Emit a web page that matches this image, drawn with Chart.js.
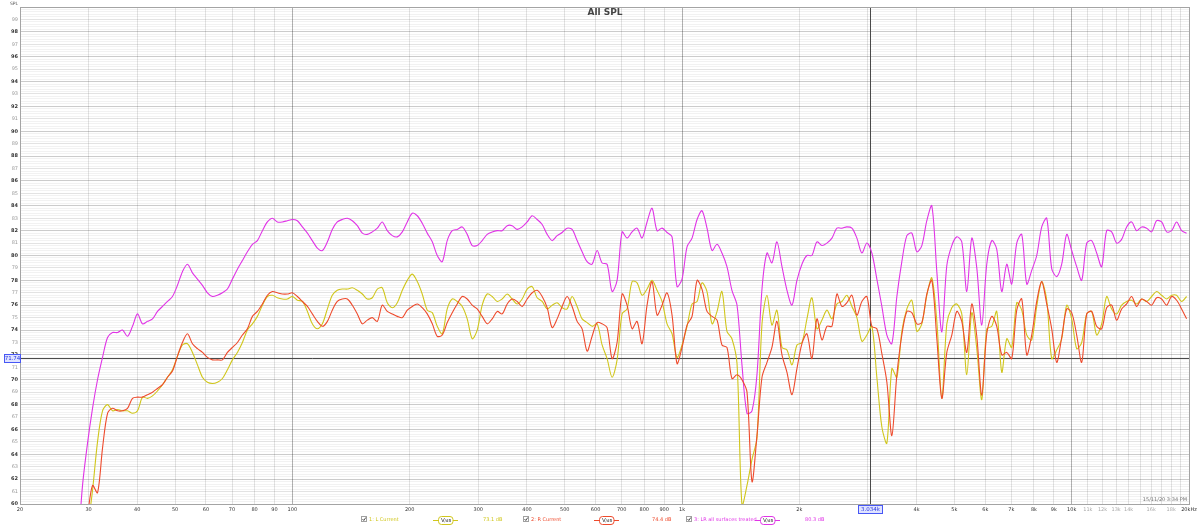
<!DOCTYPE html>
<html>
<head>
<meta charset="utf-8">
<title>All SPL</title>
<script src="https://cdn.jsdelivr.net/npm/chart.js@4.4.1/dist/chart.umd.min.js"></script>
<style>
  html, body { margin: 0; padding: 0; background: #fff; }
  #wrap { position: relative; width: 1200px; height: 526px; }
</style>
</head>
<body>
<div id="wrap"><canvas id="spl"></canvas></div>
<script>
// frequency points (Hz), roughly 1/78 decade apart
const freqHz = [
  28.10, 28.94, 29.81, 30.70, 31.62, 32.57, 33.55, 34.55, 35.59, 36.65,
  37.75, 38.88, 40.05, 41.25, 42.48, 43.76, 45.07, 46.42, 47.81, 49.24,
  50.71, 52.23, 53.80, 55.41, 57.07, 58.78, 60.54, 62.36, 64.22, 66.15,
  68.13, 70.17, 72.27, 74.44, 76.67, 78.96, 81.33, 83.77, 86.28, 88.86,
  91.52, 94.27, 97.09,
  100, 103.0, 106.1, 109.3, 112.5, 115.9, 119.4, 123.0, 126.6, 130.4,
  134.3, 138.4, 142.5, 146.8, 151.2, 155.7, 160.4, 165.2, 170.1, 175.2,
  180.5, 185.9, 191.5, 197.2, 203.1, 209.2, 215.4, 221.9, 228.6, 235.4,
  242.5, 249.7, 257.2, 264.9, 272.9, 281.0, 289.4, 298.1, 307.0, 316.2,
  325.7, 335.5, 345.5, 355.9, 366.5, 377.5, 388.8, 400.5, 412.5, 424.8,
  437.6, 450.7, 464.2, 478.1, 492.4, 507.1, 522.3, 538.0, 554.1, 570.7,
  587.8, 605.4, 623.6, 642.2, 661.5, 681.3, 701.7, 722.7, 744.4, 766.7,
  789.6, 813.3, 837.7, 862.8, 888.6, 915.2, 942.7, 970.9,
  1000, 1030, 1061, 1093, 1125, 1159, 1194, 1230, 1266, 1304,
  1343, 1384, 1425, 1468, 1512, 1557, 1604, 1652, 1701, 1752,
  1805, 1859, 1915, 1972, 2031, 2092, 2154, 2219, 2286, 2354,
  2425, 2497, 2572, 2649, 2729, 2810, 2894, 2981, 3070, 3162,
  3257, 3355, 3455, 3559, 3665, 3775, 3888, 4005, 4125, 4248,
  4376, 4507, 4642, 4781, 4924, 5071, 5223, 5380, 5541, 5707,
  5878, 6054, 6236, 6422, 6615, 6813, 7017, 7227, 7444, 7667,
  7896, 8133, 8377, 8628, 8886, 9152, 9427, 9709,
  10000, 10300, 10609, 10926, 11253, 11590, 11938, 12295, 12664, 13043,
  13434, 13837, 14251, 14678, 15118, 15571, 16037, 16518, 17013, 17523,
  18047, 18588, 19145, 19719
];

// 1: L Current (dB)
const splL = [
  55, 55.5, 58, 61.1, 65.0, 67.5, 68.0, 67.5, 67.6, 67.5,
  67.5, 67.3, 67.5, 68.6, 68.5, 68.7, 69.1, 69.6, 70.2, 70.8,
  71.9, 72.8, 72.9, 72.2, 71.2, 70.2, 69.8, 69.7, 69.8, 70.1,
  70.8, 71.6, 72.2, 73.0, 74.0, 74.5, 75.1, 76.0, 76.7, 76.8,
  76.6, 76.5, 76.5, 76.7, 76.4,
  76.3, 75.5, 74.5, 74.1, 74.5, 75.7, 76.8, 77.2, 77.3, 77.3,
  77.4, 77.2, 76.9, 76.5, 76.6, 77.3, 77.4, 76.2, 75.8, 76.2,
  77.2, 78.0, 78.5, 77.9, 76.9, 75.6, 75.4, 74.3, 73.7, 75.7,
  76.5, 76.3, 75.9, 74.9, 73.3, 74.0, 76.0, 76.9, 76.7, 76.3,
  76.5, 76.9, 76.5, 76.1, 76.5, 77.3, 77.5, 76.6,
  76.3, 75.7, 76.0, 76.2, 75.8, 75.7, 76.7, 75.9, 74.9, 74.6,
  74.3, 74.5, 72.8, 71.7, 70.2, 71.6, 75.3, 75.7, 77.9, 77.8,
  76.8, 77.3, 78.0, 77.2, 76.3, 74.5, 73.7, 71.8, 72.8, 74.3,
  76.1, 76.3, 77.8, 77.1, 74.5, 75.5, 77.1, 73.9, 73.3, 71.3,
  59.9, 61.5, 63.6, 65.3,
  74.5, 76.8, 74.4, 75.6, 72.6, 72.4, 71.2, 72.8, 73.0, 74.9,
  76.6, 74.1, 74.8, 75.6, 74.9, 76.1, 76.3, 76.8, 75.9, 75.0,
  73.1, 73.6, 74.3, 70.2, 66.2, 64.9, 70.9, 70.2, 73.9, 75.7,
  76.4, 73.9, 74.5, 76.8, 78.2, 74.7, 68.5, 74.5, 75.8, 76.1,
  75.3, 70.4, 75.4, 72.5,
  68.4, 74.1, 74.3, 75.5, 70.6, 73.3, 72.6, 76.2, 75.6, 73.6,
  73.2, 75.9, 77.9, 76.4, 71.7, 72.4, 73.3, 76.0, 74.9, 72.5,
  73.0, 75.3, 75.5, 73.6, 74.5, 76.7, 75.7, 75.3, 76.0, 76.3,
  76.4, 76.1, 76.5, 76.3, 76.7, 77.1, 76.8, 76.5, 76.8, 76.8,
  76.3, 76.7
];

// 2: R Current (dB)
const splR = [
  55, 56, 59.0, 61.5, 60.9, 64.5, 67.3, 67.7, 67.5, 67.5,
  67.7, 68.5, 68.6, 68.6, 68.8, 69.0, 69.3, 69.6, 70.2, 70.7,
  71.9, 73.0, 73.7, 72.9, 72.5, 72.2, 71.8, 71.6, 71.6, 71.6,
  72.2, 72.6, 73.0, 73.6, 74.1, 75.1, 75.5, 76.1, 76.8, 77.1,
  77.0, 76.9, 76.9, 77.0, 76.7,
  76.3, 75.9, 75.3, 74.7, 74.3, 74.7, 75.6, 76.3, 76.5, 76.5,
  76.0, 75.3, 74.5, 74.8, 75.0, 74.7, 76.0, 75.5, 75.3, 75.1,
  75.0, 75.6, 75.9, 76.1, 75.8, 75.3, 74.5, 73.5, 73.6, 74.6,
  75.4, 76.1, 76.7, 76.5, 76.0, 75.7, 75.1, 74.5, 74.9, 75.5,
  75.3, 76.1, 76.5, 76.3, 75.9, 76.5, 77.0, 77.2,
  76.7, 75.8, 74.2, 74.9, 75.9, 76.7, 75.9, 74.7, 74.1, 72.3,
  73.5, 74.6, 74.5, 74.2, 71.7, 73.0, 76.9, 76.0, 74.1, 74.7,
  72.9, 76.0, 77.9, 75.2, 76.0, 77.0, 75.2, 71.3, 72.6, 74.4,
  75.1, 78.0, 77.3, 75.5, 75.1, 74.8, 72.8, 72.6, 70.1, 70.4,
  70.0, 69.0, 61.8, 65.5,
  70.2, 71.4, 72.6, 74.7, 72.0, 70.6, 68.8, 70.9, 72.9, 73.7,
  71.7, 74.9, 73.2, 74.3, 74.3, 76.9, 75.9, 76.2, 76.8, 75.2,
  76.3, 76.7, 74.3, 74.1, 72.1, 69.8, 65.5, 70.4, 73.6, 75.5,
  75.4, 74.5, 74.6, 76.9, 78.0, 73.3, 68.5, 72.2, 73.6, 75.5,
  74.7, 72.2, 76.1, 73.5,
  68.75, 73.7, 75.1, 74.3, 72.0, 72.2, 71.7, 75.6, 76.5, 72.0,
  73.6, 76.3, 77.9, 76.1, 74.1, 71.4, 73.4, 75.7, 75.4, 73.6,
  71.4, 75.3, 75.5, 74.3, 74.1, 75.8, 76.0, 74.8, 75.7, 76.1,
  76.7, 75.9, 76.5, 76.3, 76.0, 76.6, 76.5, 76.0, 76.7, 76.4,
  75.7, 74.9
];

// 3: LR all surfaces treated (dB)
const splLR = [
  56, 61.5, 64.9, 67.7, 70.0, 71.8, 73.4, 73.8, 73.8, 74.0,
  73.5, 74.3, 75.3, 74.5, 74.7, 74.9, 75.5, 75.9, 76.3, 76.7,
  77.6, 78.7, 79.3, 78.6, 78.1, 77.6, 77.0, 76.7, 76.8, 77.0,
  77.3, 78.1, 78.9, 79.6, 80.3, 80.9, 81.2, 82.0, 82.7, 83.0,
  82.7, 82.7, 82.8, 82.9, 82.8,
  82.3, 81.8, 81.2, 80.6, 80.4, 81.1, 82.1, 82.7, 82.9, 83.0,
  82.8, 82.4, 81.8, 81.7, 81.9, 82.2, 82.7, 82.0, 81.6, 81.5,
  81.9, 82.7, 83.4, 83.2, 82.6, 81.8, 81.1, 80.0, 79.5, 81.2,
  82.0, 82.1, 82.3, 81.7, 80.8, 80.8, 81.2, 81.7, 81.9, 82.0,
  82.0, 82.4, 82.4, 82.1, 82.3, 82.7, 83.2, 82.9,
  82.5, 81.7, 81.2, 81.6, 81.85, 82.2, 82.1, 81.2, 80.3, 79.5,
  79.3, 80.4, 79.4, 79.3, 77.1, 78.0, 81.9, 81.4, 81.9, 82.2,
  81.4, 82.7, 83.8, 82.0, 82.2, 81.85, 81.5, 77.5, 78.1, 80.7,
  81.4, 82.9, 83.6, 82.2, 80.4, 80.9, 80.2, 79.1, 77.2, 76.0,
  71.2, 67.3, 67.5, 70.4,
  77.3, 80.2, 79.4, 81.1, 79.1, 77.2, 76.0, 78.0, 79.3, 80.0,
  80.0, 81.1, 80.8, 81.0, 81.4, 82.2, 82.2, 82.3, 82.2, 81.4,
  80.2, 81.0, 80.2, 78.1, 75.9, 73.6, 72.9, 76.7, 79.5, 81.6,
  81.8, 80.3, 80.8, 82.8, 84.0, 78.7, 73.85, 79.2, 80.8, 81.5,
  81.1, 77.1, 81.4, 79.0,
  74.4, 79.3, 81.2, 80.5, 77.1, 79.3, 77.7, 81.0, 81.7, 77.7,
  78.8, 80.0, 82.3, 83.0, 78.95, 78.3, 79.3, 81.7, 80.4, 79.1,
  78.0, 81.0, 81.2, 80.2, 79.1, 82.0, 81.9, 81.0, 81.3, 82.3,
  82.7, 82.0, 82.3, 82.2, 81.9, 82.8, 82.7, 81.9, 82.0, 82.7,
  82.0, 81.8
];

const freqTicks = [20, 30, 40, 50, 60, 70, 80, 90, 100, 200, 300, 400, 500, 600, 700, 800, 900,
  1000, 2000, 3000, 4000, 5000, 6000, 7000, 8000, 9000, 10000, 11000, 12000, 13000, 14000,
  15000, 16000, 17000, 18000, 19000, 20000];
const freqTickLabels = ['20', '30', '40', '50', '60', '70', '80', '90', '100', '200', '300', '400', '500',
  '600', '700', '800', '900', '1k', '2k', '3k', '4k', '5k', '6k', '7k', '8k', '9k', '10k', '11k', '12k',
  '13k', '14k', '', '16k', '', '18k', '', '20kHz'];
const splTicks = [60, 61, 62, 63, 64, 65, 66, 67, 68, 69, 70, 71, 72, 73, 74, 75, 76, 77, 78, 79,
  80, 81, 82, 83, 84, 85, 86, 87, 88, 89, 90, 91, 92, 93, 94, 95, 96, 97, 98, 99];

const traceNames = ['1: L Current', '2: R Current', '3: LR all surfaces treated'];
const traceLevels = ['73.1 dB', '74.4 dB', '80.3 dB'];
const traceColors = ['#d0c61c', '#ee4a2c', '#e034e6'];
const cursorHz = 3034;
const cursorDb = 71.74;
const cursorHzLabel = '3.034k';
const cursorDbLabel = '71.74';
const stampText = '15/11/20 3:34 PM';

const FONT = 'DejaVu Sans, Verdana, sans-serif';

function pts(vals) {
  return freqHz.map((f, i) => ({ x: f, y: vals[i] }));
}

function isWhole(v) {
  return Math.abs(v - Math.round(v)) < 1e-6;
}

function cursorBox(ctx, text, cx, cy, w) {
  ctx.fillStyle = '#dfe3ff';
  ctx.strokeStyle = '#4757f5';
  ctx.lineWidth = 1;
  ctx.fillRect(Math.round(cx - w / 2) + 0.5, Math.round(cy - 4) + 0.5, w, 8);
  ctx.strokeRect(Math.round(cx - w / 2) + 0.5, Math.round(cy - 4) + 0.5, w, 8);
  ctx.fillStyle = '#2a36e0';
  ctx.font = '5.5px ' + FONT;
  ctx.textAlign = 'center';
  ctx.textBaseline = 'middle';
  ctx.fillText(text, cx + 0.5, cy + 0.8);
}

// legend layout along the bottom strip
const legendCheckX = [362, 524, 687];
const legendIconX = [433, 594, 755];
const legendLevelX = [483, 652, 805];

const overlay = {
  id: 'overlay',
  beforeDatasetsDraw(chart) {
    const { ctx, chartArea: a, scales } = chart;
    const cx = Math.round(scales.x.getPixelForValue(cursorHz)) + 0.5;
    const cy = Math.round(scales.y.getPixelForValue(cursorDb)) + 0.5;
    ctx.save();
    ctx.strokeStyle = '#4a4a4a';
    ctx.lineWidth = 1;
    ctx.beginPath();
    ctx.moveTo(a.left, cy);
    ctx.lineTo(a.right, cy);
    ctx.moveTo(cx, a.top);
    ctx.lineTo(cx, a.bottom);
    ctx.stroke();
    ctx.restore();
  },
  afterDraw(chart) {
    const { ctx, chartArea: a, scales } = chart;
    ctx.save();

    ctx.strokeStyle = '#a4a4a4';
    ctx.lineWidth = 1;
    ctx.strokeRect(Math.round(a.left) + 0.5, Math.round(a.top) + 0.5,
      Math.round(a.right - a.left), Math.round(a.bottom - a.top));

    ctx.fillStyle = '#444';
    ctx.font = 'bold 9px ' + FONT;
    ctx.textAlign = 'center';
    ctx.textBaseline = 'middle';
    ctx.fillText('All SPL', 605, 13);

    ctx.fillStyle = '#555';
    ctx.font = '4.5px ' + FONT;
    ctx.fillText('SPL', 14, 3.5);

    ctx.fillStyle = '#777';
    ctx.font = '5px ' + FONT;
    ctx.textAlign = 'right';
    ctx.fillText(stampText, a.right - 2, a.bottom - 4);

    const cx = scales.x.getPixelForValue(cursorHz);
    const cy = scales.y.getPixelForValue(cursorDb);
    cursorBox(ctx, cursorDbLabel, 12, cy, 16);
    cursorBox(ctx, cursorHzLabel, cx, a.bottom + 5, 24);

    const ly = 520;
    for (let i = 0; i < traceNames.length; i++) {
      const col = traceColors[i];
      const bx = legendCheckX[i];
      ctx.strokeStyle = '#a0a0a0';
      ctx.fillStyle = '#fff';
      ctx.fillRect(bx - 0.5, ly - 3.5, 5, 5);
      ctx.strokeRect(bx - 0.5, ly - 3.5, 5, 5);
      ctx.strokeStyle = '#555';
      ctx.beginPath();
      ctx.moveTo(bx + 0.5, ly - 1);
      ctx.lineTo(bx + 1.8, ly + 0.5);
      ctx.lineTo(bx + 3.8, ly - 2.5);
      ctx.stroke();

      ctx.fillStyle = col;
      ctx.font = '5px ' + FONT;
      ctx.textAlign = 'left';
      ctx.textBaseline = 'middle';
      ctx.fillText(traceNames[i], bx + 7, ly);

      const ix = legendIconX[i];
      ctx.strokeStyle = col;
      ctx.lineWidth = 1;
      ctx.beginPath();
      ctx.moveTo(ix, ly + 0.5);
      ctx.lineTo(ix + 5, ly + 0.5);
      ctx.moveTo(ix + 20, ly + 0.5);
      ctx.lineTo(ix + 25, ly + 0.5);
      ctx.stroke();
      ctx.fillStyle = '#fff';
      ctx.beginPath();
      ctx.roundRect(ix + 5.5, ly - 3.5, 14.5, 8, 3);
      ctx.fill();
      ctx.stroke();
      ctx.fillStyle = '#333';
      ctx.font = '5.5px ' + FONT;
      ctx.textAlign = 'left';
      ctx.fillText('V', ix + 8, ly + 0.3);
      ctx.font = '4px ' + FONT;
      ctx.fillText('/dB', ix + 11.5, ly + 1.3);

      ctx.fillStyle = col;
      ctx.font = '5px ' + FONT;
      ctx.fillText(traceLevels[i], legendLevelX[i], ly);
    }
    ctx.restore();
  }
};

const ctx = document.getElementById('spl').getContext('2d');
new Chart(ctx, {
  type: 'line',
  data: {
    datasets: [
      { label: traceNames[0], data: pts(splL), borderColor: traceColors[0], order: 1 },
      { label: traceNames[1], data: pts(splR), borderColor: traceColors[1], order: 0 },
      { label: traceNames[2], data: pts(splLR), borderColor: traceColors[2], order: 2 }
    ]
  },
  options: {
    responsive: true,
    maintainAspectRatio: false,
    animation: false,
    events: [],
    layout: { padding: { top: 7, right: 11, left: 0, bottom: 0 } },
    elements: {
      line: { borderWidth: 1.1, tension: 0.3, fill: false },
      point: { radius: 0 }
    },
    plugins: {
      legend: { display: false },
      title: { display: false },
      tooltip: { enabled: false }
    },
    scales: {
      x: {
        type: 'logarithmic',
        min: 20,
        max: 20000,
        afterBuildTicks: (scale) => {
          scale.ticks = freqTicks.map(v => ({ value: v }));
        },
        afterFit: (scale) => { scale.height = 22; },
        border: { color: '#999' },
        grid: {
          drawTicks: false,
          color: (c) => ([100, 1000, 10000].includes(c.tick.value) ? 'rgba(0,0,0,0.30)' : 'rgba(0,0,0,0.11)'),
          lineWidth: 1
        },
        ticks: {
          autoSkip: false,
          maxRotation: 0,
          padding: 3,
          font: { family: FONT, size: 5 },
          color: (c) => (c.tick && c.tick.value > 10000 && c.tick.value < 20000 ? '#aaaaaa' : '#333333'),
          callback: (v, i) => freqTickLabels[i]
        }
      },
      y: {
        type: 'linear',
        min: 60,
        max: 100,
        afterBuildTicks: (scale) => {
          const t = [];
          for (let i = 0; i <= 200; i++) t.push({ value: +(60 + i * 0.2).toFixed(1) });
          scale.ticks = t;
        },
        afterFit: (scale) => { scale.width = 20; },
        border: { color: '#999' },
        grid: {
          drawTicks: false,
          lineWidth: 1,
          color: (c) => {
            const v = c.tick.value;
            if (!isWhole(v)) return 'rgba(0,0,0,0.05)';
            return Math.round(v) % 2 === 0 ? 'rgba(0,0,0,0.2)' : 'rgba(0,0,0,0.11)';
          }
        },
        ticks: {
          autoSkip: false,
          padding: 2,
          font: (c) => ({
            family: FONT,
            size: 5,
            weight: c.tick && Math.round(c.tick.value) % 2 === 0 ? 'bold' : 'normal'
          }),
          color: (c) => (c.tick && Math.round(c.tick.value) % 2 === 0 ? '#333333' : '#9a9a9a'),
          callback: (v) => (isWhole(v) && splTicks.includes(Math.round(v)) ? String(Math.round(v)) : '')
        }
      }
    }
  },
  plugins: [overlay]
});
</script>
</body>
</html>
